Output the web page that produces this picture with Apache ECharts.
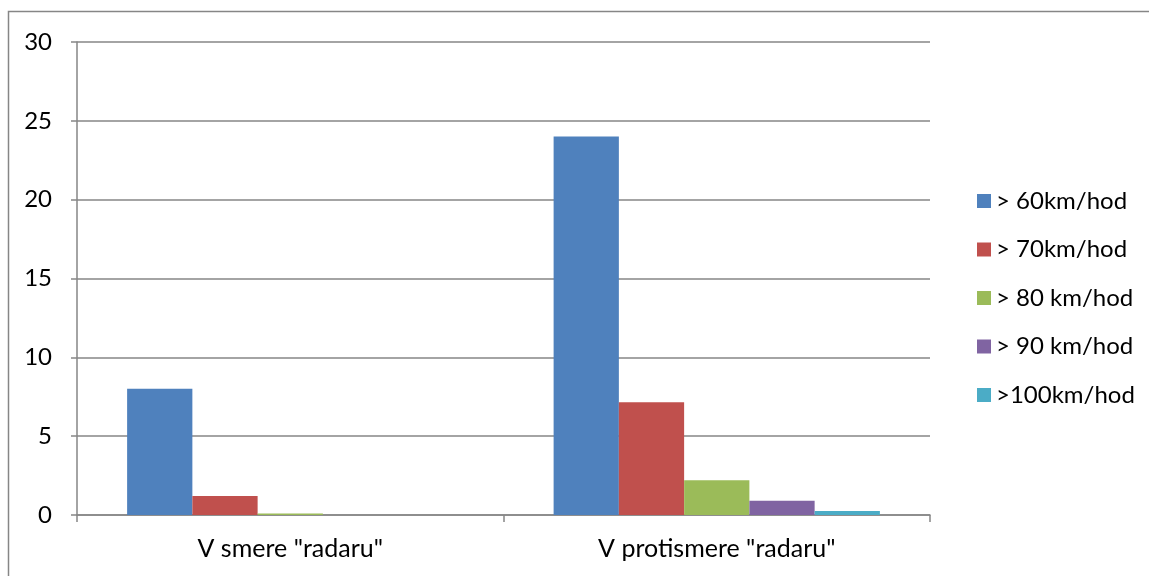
<!DOCTYPE html>
<html>
<head>
<meta charset="utf-8">
<script src="https://cdn.jsdelivr.net/npm/echarts@6/dist/echarts.min.js"></script>
<style>
    html, body { margin: 0; padding: 0; background: #fff; }
    #chart { width: 1149px; height: 576px; }
</style>
</head>
<body>
<div id="chart"></div>
<script>
    var categories = ['V smere "radaru"', 'V protismere "radaru"'];
    var seriesNames = ['> 60km/hod', '> 70km/hod', '> 80 km/hod', '> 90 km/hod', '>100km/hod'];
    var v60 = [8, 24];
    var v70 = [1.2, 7.15];
    var v80 = [0.1, 2.2];
    var v90 = [0, 0.9];
    var v100 = [0, 0.25];
    var colors = ['#4F81BD', '#C0504D', '#9BBB59', '#8064A2', '#4BACC6'];

    var font = "Lato, 'Open Sans', sans-serif";
    var chart = echarts.init(document.getElementById('chart'));

    var values = [v60, v70, v80, v90, v100];
    var series = values.map(function (data, i) {
        return {
            name: seriesNames[i],
            type: 'bar',
            data: data,
            barGap: '0%',
            barCategoryGap: '23.5%',
            itemStyle: {
                color: colors[i]
            },
            emphasis: { disabled: true }
        };
    });

    var option = {
        animation: false,
        color: colors,
        textStyle: { fontFamily: font },
        graphic: [{
            type: 'polyline',
            shape: { points: [[8.5, 580], [8.5, 11.5], [1152, 11.5]] },
            style: { stroke: '#868686', lineWidth: 1.5, fill: null },
            silent: true
        }],
        grid: {
            left: 77,
            right: 219,
            top: 42,
            bottom: 61
        },
        legend: {
            orient: 'vertical',
            left: 972,
            top: 183.5,
            itemWidth: 14,
            itemHeight: 14,
            itemGap: 23.5,
            icon: 'rect',
            textStyle: {
                fontSize: 24,
                lineHeight: 25,
                color: '#000',
                fontFamily: font
            },
            data: seriesNames
        },
        xAxis: {
            type: 'category',
            data: categories,
            axisLine: { lineStyle: { color: '#868686', width: 1.5 } },
            axisTick: { show: true, length: 7, lineStyle: { color: '#868686', width: 1.5 } },
            axisLabel: {
                color: '#000',
                fontSize: 25,
                margin: 21,
                fontFamily: font
            }
        },
        yAxis: {
            type: 'value',
            min: 0,
            max: 30,
            interval: 5,
            axisLine: { show: true, lineStyle: { color: '#868686', width: 1.5 } },
            axisTick: { show: true, length: 6, inside: false, lineStyle: { color: '#868686', width: 1.5 } },
            axisLabel: {
                color: '#000',
                fontSize: 24,
                margin: 25,
                fontFamily: font
            },
            splitLine: { lineStyle: { color: '#868686', width: 1.5 } }
        },
        series: series
    };

    chart.setOption(option);
</script>
</body>
</html>
